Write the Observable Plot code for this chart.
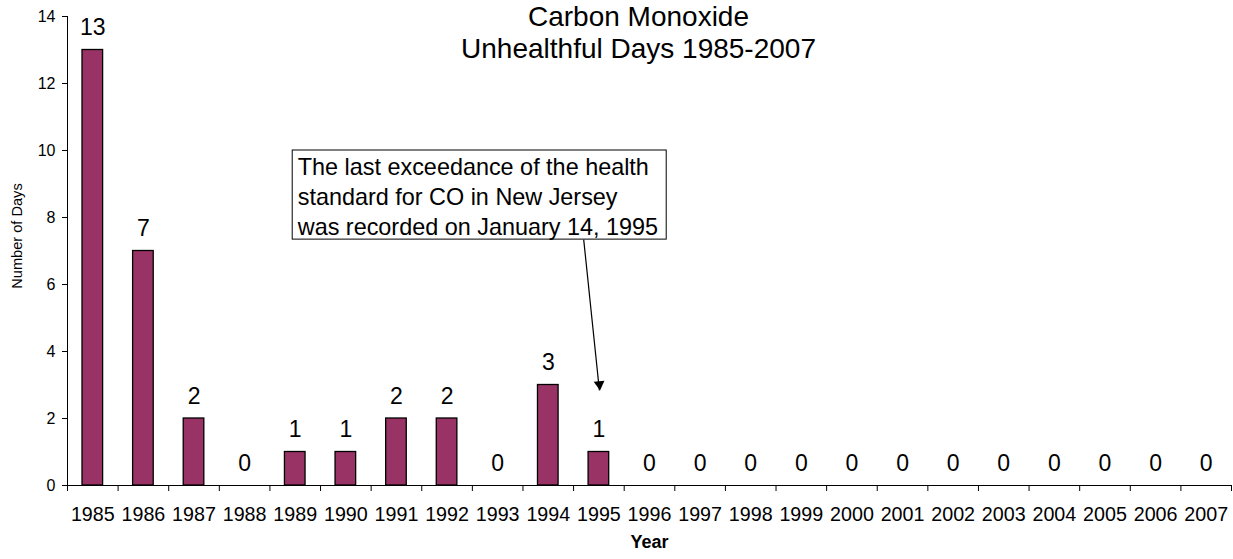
<!DOCTYPE html>
<html>
<head>
<meta charset="utf-8">
<script src="https://cdn.jsdelivr.net/npm/d3@7"></script>
<script src="https://cdn.jsdelivr.net/npm/@observablehq/plot@0.6"></script>
<style>
  html, body { margin: 0; padding: 0; background: #fff; }
  svg { font-family: "Liberation Sans", Arial, sans-serif; }
</style>
</head>
<body>
<div id="chart"></div>
<script>
const years = [1985, 1986, 1987, 1988, 1989, 1990, 1991, 1992, 1993, 1994, 1995, 1996,
               1997, 1998, 1999, 2000, 2001, 2002, 2003, 2004, 2005, 2006, 2007];
const days  = [13, 7, 2, 0, 1, 1, 2, 2, 0, 3, 1, 0,
               0, 0, 0, 0, 0, 0, 0, 0, 0, 0, 0];
const yTicks = [0, 2, 4, 6, 8, 10, 12, 14];
const titleLines = ["Carbon Monoxide", "Unhealthful Days 1985-2007"];
const yTitle = "Number of Days";
const xTitle = "Year";
const noteLines = ["The last exceedance of the health", "standard for CO in New Jersey", "was recorded on January 14, 1995"];
// annotation placement in data units (box, text anchor, arrow from/to)
const note = {x1: 1989.45, x2: 1996.84, y1: 7.34, y2: 10.0, tx: 1989.55, ty: 8.66,
              ax1: 1995.2, ay1: 7.34, ax2: 1995.51, ay2: 2.84};

const data = years.map((year, i) => ({year, days: days[i]}));
const boundaries = years.concat([years[years.length - 1] + 1]);

const chart = Plot.plot({
  width: 1233,
  height: 559,
  marginTop: 16,
  marginBottom: 74,
  marginLeft: 67,
  marginRight: 2,
  style: {fontFamily: '"Liberation Sans", Arial, sans-serif', color: "black", background: "white"},
  x: {type: "linear", domain: [1985, 2008], label: null},
  y: {domain: [0, 14], label: null},
  marks: [
    Plot.rectY(data, {x1: "year", x2: d => d.year + 1, y: "days", insetLeft: 15, insetRight: 15,
                      fill: "#993366", stroke: "black", strokeWidth: 1.3}),
    Plot.ruleY([0], {stroke: "black"}),
    Plot.ruleX([1985], {stroke: "black"}),
    Plot.axisY({ticks: yTicks, tickSize: 5, tickPadding: 7, fontSize: 16, label: null}),
    Plot.axisX({ticks: boundaries, tickSize: 6, tickFormat: () => "", label: null}),
    Plot.axisX({ticks: years.map(y => y + 0.5), tickFormat: d => String(Math.floor(d)),
                tickSize: 0, tickPadding: 21, fontSize: 19.7, label: null}),
    Plot.text(data, {x: d => d.year + 0.5, y: "days", text: d => String(d.days), dy: -22,
                     lineAnchor: "middle", fontSize: 23}),
    Plot.text([titleLines.join("\n")], {text: d => d, frameAnchor: "top", dx: -11, dy: 15,
                     lineAnchor: "middle", lineHeight: 1.14, fontSize: 28}),
    Plot.text([yTitle], {text: d => d, frameAnchor: "left", textAnchor: "middle", dx: -50, dy: -15,
                     rotate: -90, fontSize: 14.6}),
    Plot.text([xTitle], {text: d => d, frameAnchor: "bottom", dy: 62, fontWeight: "bold", fontSize: 18}),
    Plot.rect([note], {x1: d => d.x1, x2: d => d.x2, y1: d => d.y1, y2: d => d.y2,
                       fill: "white", stroke: "black", strokeWidth: 1}),
    Plot.text([note], {x: d => d.tx, y: d => d.ty, text: () => noteLines.join("\n"),
                       textAnchor: "start", lineAnchor: "middle", lineHeight: 1.29, fontSize: 23.4}),
    Plot.link([note], {x1: d => d.ax1, y1: d => d.ay1, x2: d => d.ax2, y2: d => d.ay2,
                       stroke: "black", strokeWidth: 1.2}),
    Plot.dot([note], {x: d => d.ax2, y: d => d.ay2, symbol: "triangle", r: 4, rotate: 174,
                      dy: -6, fill: "black", stroke: "none"})
  ]
});
document.getElementById("chart").appendChild(chart);
</script>
</body>
</html>
